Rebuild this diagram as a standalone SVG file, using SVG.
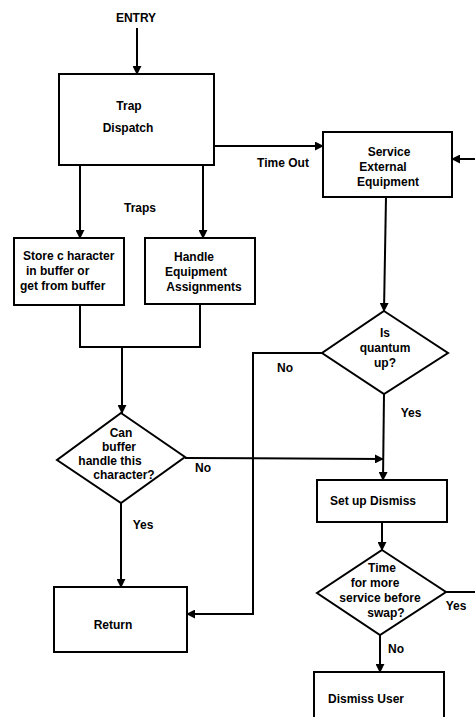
<svg xmlns="http://www.w3.org/2000/svg" width="475" height="717" viewBox="0 0 475 717">
<style>
.b{fill:#fff;stroke:#000;stroke-width:2}
.c{fill:none;stroke:#000;stroke-width:2}
text{font-family:"Liberation Sans",Arial,sans-serif;font-weight:bold;font-size:12px;fill:#000}
.m{text-anchor:middle}
</style>
<defs>
<marker id="a" viewBox="0 0 10 10" refX="9" refY="5" markerWidth="4.5" markerHeight="4.5" orient="auto" markerUnits="strokeWidth">
<path d="M0,0 L10,5 L0,10 z" fill="#000"/>
</marker>
</defs>
<g id="connectors">
<line class="c" x1="137" y1="28" x2="137" y2="74" marker-end="url(#a)"/>
<line class="c" x1="214" y1="146" x2="323" y2="146" marker-end="url(#a)"/>
<line class="c" x1="475" y1="159" x2="452" y2="159" marker-end="url(#a)"/>
<line class="c" x1="80" y1="165" x2="80" y2="238" marker-end="url(#a)"/>
<line class="c" x1="203" y1="165" x2="203" y2="238" marker-end="url(#a)"/>
<polyline class="c" points="80,305 80,347 200,347 200,304"/>
<line class="c" x1="122" y1="347" x2="122" y2="413" marker-end="url(#a)"/>
<line class="c" x1="386" y1="197" x2="384" y2="311" marker-end="url(#a)"/>
<polyline class="c" points="322,353 253,353 253,614 187,614" marker-end="url(#a)"/>
<line class="c" x1="185" y1="458" x2="383" y2="459" marker-end="url(#a)"/>
<line class="c" x1="384" y1="394" x2="383" y2="480" marker-end="url(#a)"/>
<line class="c" x1="121" y1="503" x2="121" y2="587" marker-end="url(#a)"/>
<line class="c" x1="382" y1="522" x2="382" y2="550" marker-end="url(#a)"/>
<line class="c" x1="446" y1="592" x2="475" y2="592"/>
<line class="c" x1="380" y1="635" x2="380" y2="672" marker-end="url(#a)"/>
<text x="136" y="22" class="m">ENTRY</text>
<text x="283" y="167" class="m">Time Out</text>
<text x="140" y="212" class="m">Traps</text>
<text x="285" y="372" class="m">No</text>
<text x="411" y="417" class="m">Yes</text>
<text x="203" y="472" class="m">No</text>
<text x="143" y="529" class="m">Yes</text>
<text x="456" y="610" class="m">Yes</text>
<text x="396" y="653" class="m">No</text>
</g>
<g id="trap-dispatch">
<rect class="b" x="59" y="74" width="155" height="91"/>
<text x="129" y="110" class="m">Trap</text>
<text x="128" y="132" class="m">Dispatch</text>
</g>
<g id="service-external">
<rect class="b" x="323" y="132" width="129" height="65"/>
<text x="389" y="156" class="m">Service</text>
<text x="383" y="171" class="m">External</text>
<text x="388" y="186" class="m">Equipment</text>
</g>
<g id="store-character">
<rect class="b" x="14" y="238" width="110" height="67"/>
<text x="23" y="260">Store c haracter</text>
<text x="26" y="275">in buffer  or</text>
<text x="20" y="290">get from buffer</text>
</g>
<g id="handle-equipment">
<rect class="b" x="145" y="238" width="110" height="66"/>
<text x="194" y="261" class="m">Handle</text>
<text x="196" y="276" class="m">Equipment</text>
<text x="204" y="291" class="m">Assignments</text>
</g>
<g id="can-buffer">
<polygon class="b" points="121,413 185,457 121,503 57,460"/>
<text x="121" y="437" class="m">Can</text>
<text x="119" y="451" class="m">buffer</text>
<text x="110" y="465" class="m">handle this</text>
<text x="124" y="479" class="m">character?</text>
</g>
<g id="is-quantum-up">
<polygon class="b" points="384,311 448,353 384,394 322,353"/>
<text x="385" y="337" class="m">Is</text>
<text x="385" y="352" class="m">quantum</text>
<text x="385" y="367" class="m">up?</text>
</g>
<g id="set-up-dismiss">
<rect class="b" x="317" y="480" width="130" height="42"/>
<text x="373" y="505" class="m">Set up Dismiss</text>
</g>
<g id="time-for-more">
<polygon class="b" points="382,550 446,592 380,635 317,593"/>
<text x="382" y="572" class="m">Time</text>
<text x="375" y="587" class="m">for more</text>
<text x="380" y="602" class="m">service before</text>
<text x="386" y="617" class="m">swap?</text>
</g>
<g id="return">
<rect class="b" x="54" y="587" width="133" height="65"/>
<text x="113" y="629" class="m">Return</text>
</g>
<g id="dismiss-user">
<rect class="b" x="314" y="672" width="130" height="60"/>
<text x="366" y="703" class="m">Dismiss User</text>
</g>
</svg>
